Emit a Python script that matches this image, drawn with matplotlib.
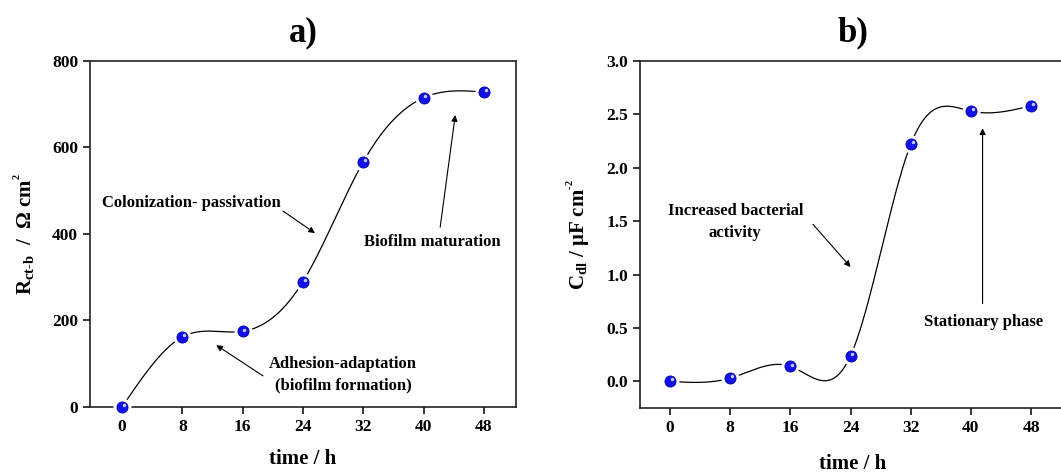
import matplotlib
matplotlib.use('Agg')
import matplotlib.pyplot as plt
import matplotlib.transforms as mtransforms
import numpy as np

plt.rcParams['font.family'] = ['Liberation Serif', 'DejaVu Serif']
plt.rcParams['font.weight'] = 'bold'
plt.rcParams['mathtext.fontset'] = 'custom'
plt.rcParams['mathtext.rm'] = 'Liberation Serif:bold'
plt.rcParams['mathtext.it'] = 'Liberation Serif:bold'
plt.rcParams['mathtext.bf'] = 'Liberation Serif:bold'

# data
time_h = [0, 8, 16, 24, 32, 40, 48]
r_ctb = [0, 162, 175, 290, 567, 715, 728]
c_dl = [0.0, 0.03, 0.14, 0.24, 2.22, 2.53, 2.58]


def natural_spline(x, y, n=400):
    # plain natural cubic spline, no scipy here
    x = np.asarray(x, float)
    y = np.asarray(y, float)
    k = len(x)
    h = np.diff(x)
    A = np.zeros((k, k))
    b = np.zeros(k)
    A[0, 0] = 1
    A[-1, -1] = 1
    for i in range(1, k - 1):
        A[i, i - 1] = h[i - 1]
        A[i, i] = 2 * (h[i - 1] + h[i])
        A[i, i + 1] = h[i]
        b[i] = 3 * ((y[i + 1] - y[i]) / h[i] - (y[i] - y[i - 1]) / h[i - 1])
    c = np.linalg.solve(A, b)
    xs = np.linspace(x[0], x[-1], n)
    ys = np.empty_like(xs)
    for j, xv in enumerate(xs):
        i = min(np.searchsorted(x, xv, side='right') - 1, k - 2)
        dx = xv - x[i]
        bi = (y[i + 1] - y[i]) / h[i] - h[i] * (2 * c[i] + c[i + 1]) / 3
        di = (c[i + 1] - c[i]) / (3 * h[i])
        ys[j] = y[i] + bi * dx + c[i] * dx ** 2 + di * dx ** 3
    return xs, ys


def draw_panel(ax, x, y):
    xs, ys = natural_spline(x, y)
    ax.plot(xs, ys, color='black', lw=0.9, zorder=2)
    # white halo gives the gap around each point
    ax.plot(x, y, 'o', ms=12, color='white', mec='white', zorder=3, clip_on=False)
    ax.plot(x, y, 'o', ms=8, color='#1010e8', mec='#0000b0', mew=0.6, zorder=4, clip_on=False)
    hl = ax.transData + mtransforms.ScaledTranslation(1.3 / 72, 1.3 / 72, ax.figure.dpi_scale_trans)
    ax.plot(x, y, 'o', ms=2.5, color='#c8c8ff', mec='none', zorder=5, transform=hl, clip_on=False)

    ax.set_xticks(time_h)
    ax.tick_params(direction='out', length=5, width=1.1, labelsize=12.5, top=False, right=False)
    for s in ax.spines.values():
        s.set_linewidth(1.2)
        s.set_color('#222222')
    for lab in ax.get_xticklabels() + ax.get_yticklabels():
        lab.set_fontweight('bold')


fig = plt.figure(figsize=(10.61, 4.72), dpi=100)

arw = dict(arrowstyle='-|>', lw=0.8, color='black', mutation_scale=9, shrinkA=0, shrinkB=0)

# a)
ax1 = fig.add_axes([0.0848, 0.1377, 0.4015, 0.7331])
draw_panel(ax1, time_h, r_ctb)
ax1.set_xlim(-4.25, 52.25)
ax1.set_ylim(0, 800)
ax1.set_yticks([0, 200, 400, 600, 800])
ax1.set_title('a)', fontsize=25, fontweight='bold', pad=14)
ax1.set_xlabel('time / h', fontsize=15, fontweight='bold', labelpad=10)
ax1.set_ylabel(r'R$_\mathregular{ct\text{-}b}$  /  $\Omega$ cm$^\mathregular{^2}$', fontsize=15,
               fontweight='bold', labelpad=10)

ax1.text(9.15, 472, 'Colonization- passivation', ha='center', va='center', fontsize=12, fontweight='bold')
ax1.annotate('', xy=(25.6, 402), xytext=(21.35, 453), arrowprops=arw)
ax1.text(41.2, 381, 'Biofilm maturation', ha='center', va='center', fontsize=12, fontweight='bold')
ax1.annotate('', xy=(44.2, 675), xytext=(42.2, 416), arrowprops=arw)
ax1.text(29.3, 75, 'Adhesion-adaptation\n(biofilm formation)', ha='center', va='center',
         fontsize=12, fontweight='bold', linespacing=1.5)
ax1.annotate('', xy=(12.5, 143), xytext=(18.7, 72), arrowprops=arw)

# b)
ax2 = fig.add_axes([0.6032, 0.1356, 0.4005, 0.7352])
draw_panel(ax2, time_h, c_dl)
ax2.set_xlim(-4, 52.5)
ax2.set_ylim(-0.25, 3.0)
ax2.set_yticks([0.0, 0.5, 1.0, 1.5, 2.0, 2.5, 3.0])
ax2.set_yticklabels(['%.1f' % v for v in [0.0, 0.5, 1.0, 1.5, 2.0, 2.5, 3.0]], fontweight='bold')
ax2.set_title('b)', fontsize=25, fontweight='bold', pad=14)
ax2.set_xlabel('time / h', fontsize=15, fontweight='bold', labelpad=13)
ax2.set_ylabel(r'C$_\mathregular{dl}$ / $\mu$F cm$^\mathregular{^{\text{-}2}}$', fontsize=15,
               fontweight='bold', labelpad=10)

ax2.text(8.67, 1.495, 'Increased bacterial\nactivity', ha='center', va='center',
         fontsize=12, fontweight='bold', linespacing=1.5)
ax2.annotate('', xy=(24.0, 1.07), xytext=(19.0, 1.47), arrowprops=arw)
ax2.text(41.7, 0.556, 'Stationary phase', ha='center', va='center', fontsize=12, fontweight='bold')
ax2.annotate('', xy=(41.55, 2.37), xytext=(41.55, 0.728), arrowprops=arw)

fig.savefig('out.png', dpi=100)
